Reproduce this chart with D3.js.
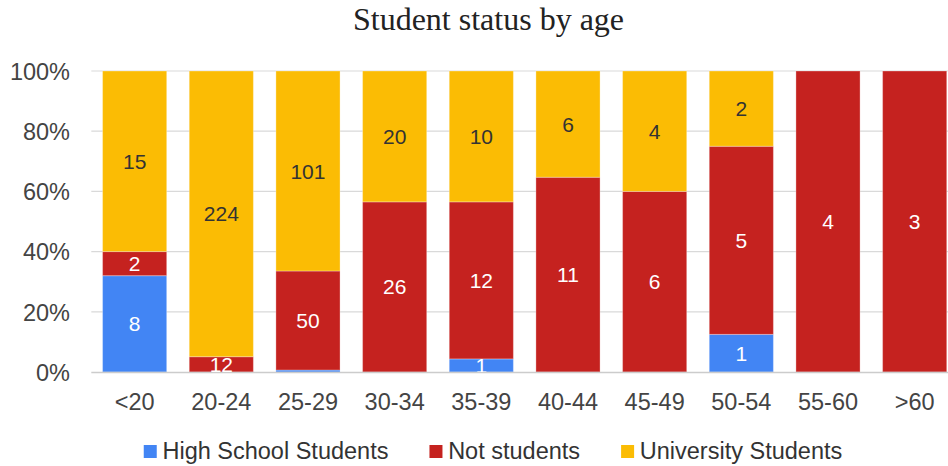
<!DOCTYPE html>
<html>
<head>
<meta charset="utf-8">
<script src="https://cdn.jsdelivr.net/npm/d3@7"></script>
<style>
  html, body { margin: 0; padding: 0; background: #fff; }
  svg { display: block; }
</style>
</head>
<body>
<svg id="chart" width="948" height="466"></svg>
<script>
// Age groups and head counts per student status
const ageGroups = ["<20", "20-24", "25-29", "30-34", "35-39", "40-44", "45-49", "50-54", "55-60", ">60"];
const highSchool = [8, 0, 1, 0, 1, 0, 0, 1, 0, 0];
const notStudents = [2, 12, 50, 26, 12, 11, 6, 5, 4, 3];
const university = [15, 224, 101, 20, 10, 6, 4, 2, 0, 0];

const seriesNames = ["High School Students", "Not students", "University Students"];
const seriesColors = ["#4285F4", "#C5221F", "#FBBC04"];
const labelColors = ["#ffffff", "#ffffff", "#333333"];
const yTicks = [0, 0.2, 0.4, 0.6, 0.8, 1];

const rows = ageGroups.map((g, i) => ({
  group: g,
  [seriesNames[0]]: highSchool[i],
  [seriesNames[1]]: notStudents[i],
  [seriesNames[2]]: university[i]
}));

const stack = d3.stack().keys(seriesNames).offset(d3.stackOffsetExpand);
const layers = stack(rows);

const svg = d3.select("#chart");
const plot = { left: 91.3, right: 958, top: 71, bottom: 372 };

const x = d3.scaleBand()
  .domain(ageGroups)
  .range([plot.left, plot.right])
  .paddingInner(0.26)
  .paddingOuter(0.13);

const y = d3.scaleLinear().domain([0, 1]).range([plot.bottom, plot.top]);

// Title
svg.append("text")
  .attr("x", 488.5)
  .attr("y", 29.5)
  .attr("text-anchor", "middle")
  .attr("font-family", "'Liberation Serif', 'Times New Roman', serif")
  .attr("font-size", 32)
  .attr("fill", "#222")
  .text("Student status by age");

// Horizontal gridlines
svg.append("g")
  .selectAll("line")
  .data(yTicks.filter(t => t > 0))
  .join("line")
  .attr("x1", plot.left)
  .attr("x2", 948)
  .attr("y1", d => y(d))
  .attr("y2", d => y(d))
  .attr("stroke", "#d9d9d9")
  .attr("stroke-width", 1.2);

// Y axis labels
const yAxis = d3.axisLeft(y).tickValues(yTicks).tickFormat(d3.format(".0%")).tickSize(0).tickPadding(0);
const yg = svg.append("g").attr("transform", `translate(70,0)`).call(yAxis);
yg.select(".domain").remove();
yg.selectAll("text")
  .attr("font-family", "'Liberation Sans', Arial, sans-serif")
  .attr("font-size", 23.5)
  .attr("fill", "#444")
  .attr("dy", "0.35em");

// Bars
const barGroups = svg.append("g")
  .selectAll("g")
  .data(layers)
  .join("g")
  .attr("fill", (d, i) => seriesColors[i]);

barGroups.selectAll("rect")
  .data(d => d)
  .join("rect")
  .attr("x", d => x(d.data.group))
  .attr("width", x.bandwidth())
  .attr("y", d => y(d[1]))
  .attr("height", d => Math.max(0, y(d[0]) - y(d[1])))
  .attr("stroke", "#ffffff")
  .attr("stroke-opacity", d => (d[1] - d[0] > 0 ? 0.3 : 0))
  .attr("stroke-width", 1);

// Baseline
svg.append("line")
  .attr("x1", plot.left)
  .attr("x2", 948)
  .attr("y1", y(0) + 0.5)
  .attr("y2", y(0) + 0.5)
  .attr("stroke", "#cccccc")
  .attr("stroke-width", 1.5);

// Data labels, clipped to the plotting area
svg.append("defs").append("clipPath").attr("id", "plotClip")
  .append("rect")
  .attr("x", plot.left)
  .attr("y", plot.top)
  .attr("width", plot.right - plot.left)
  .attr("height", plot.bottom - plot.top);

const labelLayer = svg.append("g").attr("clip-path", "url(#plotClip)");
layers.forEach((layer, si) => {
  labelLayer.append("g")
    .selectAll("text")
    .data(layer.filter(d => d.data[seriesNames[si]] > 0 && (y(d[0]) - y(d[1])) >= 8))
    .join("text")
    .attr("x", d => x(d.data.group) + x.bandwidth() / 2)
    .attr("y", d => (y(d[0]) + y(d[1])) / 2)
    .attr("dy", "0.36em")
    .attr("text-anchor", "middle")
    .attr("font-family", "'Liberation Sans', Arial, sans-serif")
    .attr("font-size", 21)
    .attr("fill", labelColors[si])
    .text(d => d.data[seriesNames[si]]);
});

// X axis labels
const xAxis = d3.axisBottom(x).tickSize(0).tickPadding(0);
const xg = svg.append("g").attr("transform", `translate(0,${plot.bottom})`).call(xAxis);
xg.select(".domain").remove();
xg.selectAll("text")
  .attr("font-family", "'Liberation Sans', Arial, sans-serif")
  .attr("font-size", 23.5)
  .attr("fill", "#444")
  .attr("dy", 0)
  .attr("y", 37.5);

// Legend, centred under the plot
const legend = svg.append("g");
const items = legend.selectAll("g")
  .data(seriesNames)
  .join("g");
items.append("rect")
  .attr("width", 13)
  .attr("height", 13)
  .attr("y", 445)
  .attr("fill", (d, i) => seriesColors[i]);
items.append("text")
  .attr("x", 18.7)
  .attr("y", 459)
  .attr("font-family", "'Liberation Sans', Arial, sans-serif")
  .attr("font-size", 23.5)
  .attr("fill", "#333")
  .text(d => d);

const gap = 41;
let cursor = 0;
const offsets = [];
items.each(function () {
  const w = 18.7 + d3.select(this).select("text").node().getComputedTextLength();
  offsets.push(cursor);
  cursor += w + gap;
});
const totalWidth = cursor - gap;
const startX = 493 - totalWidth / 2;
items.attr("transform", (d, i) => `translate(${startX + offsets[i]},0)`);
</script>
</body>
</html>
